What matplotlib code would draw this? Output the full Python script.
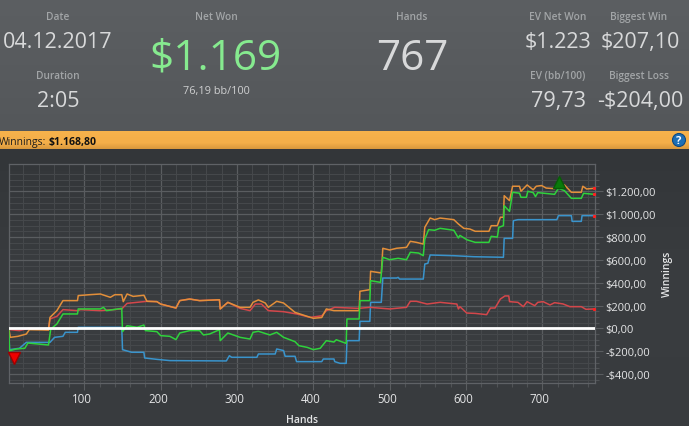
#!/usr/bin/env python
"""
Session summary panel with winnings graph
"""
import numpy as np
import matplotlib
matplotlib.use('Agg')
import matplotlib.pyplot as plt
from matplotlib.colors import LinearSegmentedColormap
from matplotlib.patches import Circle
from matplotlib.ticker import FixedLocator, FixedFormatter
from matplotlib.transforms import ScaledTranslation

plt.rcParams['font.family'] = ['Open Sans', 'DejaVu Sans']

WIDTH, HEIGHT = 689, 427

x_ticks = [100, 200, 300, 400, 500, 600, 700]
x_minor = [h for h in range(20, 770, 20) if h % 100 != 0]
y_ticks = [-400, -200, 0, 200, 400, 600, 800, 1000, 1200]
y_minor = [v for v in range(-450, 1400, 50) if v % 200 != 0]
y_labels = ['-$400,00', '-$200,00', '$0,00', '$200,00', '$400,00', '$600,00',
            '$800,00', '$1.000,00', '$1.200,00']

blue_h = [1, 2, 15, 24, 55, 61, 72, 75, 91, 92, 149, 150, 162, 178, 179, 195, 212, 286, 290, 293,
          326, 328, 350, 352, 361, 363, 376, 378, 411, 413, 427, 428, 435, 443, 444, 460, 461, 474,
          475, 489, 491, 509, 511, 513, 544, 546, 550, 553, 584, 610, 649, 650, 661, 662, 668, 719,
          721, 738, 739, 751, 752, 768]
blue_v = [0, -187, -175, -123, -123, -79, -70, -35, -35, 9, 9, -187, -210, -210, -260, -272, -283, -286, -240, -254,
          -254, -225, -225, -181, -195, -245, -245, -292, -292, -269, -269, -292, -307, -307, -108, -108, 61, 61,
          228, 228, 441, 441, 447, 432, 432, 564, 570, 643, 637, 628, 623, 789, 789, 944, 953, 953,
          988, 988, 938, 938, 988, 988]

green_h = [1, 2, 11, 22, 26, 53, 56, 64, 72, 91, 92, 121, 125, 129, 149, 150, 156, 169, 178, 180,
           195, 200, 212, 220, 225, 238, 251, 256, 264, 277, 278, 288, 304, 317, 321, 328, 343, 352,
           361, 376, 381, 392, 400, 409, 417, 427, 430, 443, 444, 460, 461, 474, 475, 488, 491, 500,
           511, 522, 527, 538, 544, 546, 551, 559, 566, 584, 590, 592, 601, 612, 630, 633, 641, 643,
           649, 650, 657, 661, 670, 672, 679, 681, 688, 691, 694, 716, 721, 729, 738, 751, 754, 768]
green_v = [0, -196, -181, -175, -129, -146, -6, 38, 126, 126, 170, 170, 184, 155, 175, -29, 23, 9, 29, -20,
           -29, -64, -70, -99, -41, -20, -20, -58, -50, -12, -108, -41, -79, -94, -35, -26, -58, -35,
           -79, -117, -152, -167, -187, -175, -108, -120, -100, -132, 82, 82, 243, 243, 418, 403, 623, 602,
           614, 602, 667, 660, 637, 783, 865, 860, 877, 860, 792, 815, 777, 754, 754, 807, 800, 886,
           900, 1075, 1026, 1193, 1185, 1149, 1149, 1202, 1190, 1155, 1190, 1175, 1228, 1207, 1140, 1140, 1184, 1175]

orange_h = [1, 3, 13, 24, 28, 53, 55, 64, 72, 91, 92, 107, 121, 134, 140, 149, 151, 156, 164, 178,
            182, 195, 200, 220, 225, 238, 251, 275, 277, 278, 288, 304, 317, 321, 328, 337, 341, 352,
            361, 376, 392, 400, 411, 417, 427, 435, 460, 461, 474, 475, 489, 491, 500, 509, 522, 527,
            535, 544, 546, 553, 559, 566, 584, 590, 597, 605, 612, 630, 633, 641, 645, 649, 650, 657,
            661, 670, 672, 680, 688, 692, 699, 705, 716, 721, 729, 738, 751, 753, 758, 768]
orange_v = [0, -79, -70, -50, -12, -15, 96, 155, 243, 243, 287, 295, 301, 272, 295, 295, 234, 301, 280, 290,
            237, 234, 213, 178, 243, 257, 243, 250, 250, 170, 228, 184, 184, 228, 249, 222, 184, 237,
            222, 140, 105, 88, 95, 170, 155, 155, 155, 325, 339, 500, 485, 702, 687, 702, 710, 763,
            754, 739, 886, 967, 953, 967, 953, 915, 877, 871, 851, 851, 900, 900, 974, 974, 1163, 1120,
            1246, 1246, 1202, 1257, 1215, 1246, 1252, 1230, 1225, 1266, 1257, 1193, 1193, 1246, 1222, 1228]

red_h = [1, 3, 15, 27, 53, 55, 64, 72, 91, 95, 121, 149, 156, 182, 195, 200, 220, 225, 238, 251,
         275, 277, 278, 288, 304, 317, 324, 332, 341, 361, 379, 396, 411, 417, 428, 459, 474, 500,
         522, 527, 535, 549, 566, 579, 588, 590, 592, 601, 612, 627, 632, 638, 645, 651, 656, 657,
         668, 675, 680, 690, 694, 701, 710, 716, 727, 736, 751, 757, 768]
red_v = [0, -12, -20, 0, -12, 82, 105, 164, 155, 164, 155, 170, 219, 237, 234, 213, 178, 243, 257, 243,
         250, 250, 170, 228, 175, 155, 213, 213, 155, 146, 125, 96, 110, 155, 184, 175, 184, 170,
         184, 237, 237, 213, 228, 219, 213, 170, 190, 134, 131, 120, 178, 178, 257, 284, 284, 234,
         228, 190, 234, 199, 228, 234, 205, 225, 214, 190, 190, 167, 170]

min_hand = [8]
min_value = [-258]
max_hand = [722]
max_value = [1285]

header_labels = [('Date', 58, 20), ('Net Won', 216, 20), ('Hands', 412, 20),
                 ('EV Net Won', 558, 20), ('Biggest Win', 639, 20),
                 ('Duration', 58, 79), ('EV (bb/100)', 558, 79), ('Biggest Loss', 639, 79)]
header_values = [('04.12.2017', 58, 48), ('2:05', 58, 107), ('$1.223', 558, 48),
                 ('$207,10', 640, 48), ('79,73', 558, 107), ('-$204,00', 640, 107)]


def px(x, y):
    return x / WIDTH, 1 - y / HEIGHT


def band(axis, colors, y_bottom, y_top):
    cmap = LinearSegmentedColormap.from_list('band', colors)
    axis.imshow(np.linspace(0, 1, 64).reshape(-1, 1), cmap=cmap,
                extent=(0, WIDTH, y_bottom, y_top), aspect='auto')


fig = plt.figure(figsize=(WIDTH / 100, HEIGHT / 100), dpi=100, facecolor='#383b3e')

# flat bands behind everything, in pixel coordinates
bg = fig.add_axes([0, 0, 1, 1], zorder=0)
band(bg, ['#5c5f62', '#54575a'], 132, 0)
band(bg, ['#f7b34c', '#f5b04a', '#f4af49', '#d9983d'], 150, 132)
band(bg, ['#333639', '#3a3d40', '#383b3e'], HEIGHT, 150)
bg.set_xlim(0, WIDTH)
bg.set_ylim(HEIGHT, 0)
bg.axis('off')
bg.add_patch(Circle((679, 141), 6.5, facecolor='#1d6fb5', edgecolor='#0f4a80', lw=0.8))
bg.text(679, 141.5, '?', color='white', fontsize=8, fontweight='bold', ha='center', va='center')

for text, x, y in header_labels:
    fig.text(*px(x, y), text, color='#a2a5a7', fontsize=7.3, fontweight='semibold', ha='center',
             va='baseline', zorder=5)
for text, x, y in header_values:
    fig.text(*px(x, y), text, color='#d8d9da', fontsize=15.5, ha='center', va='baseline', zorder=5)
fig.text(*px(216, 70), '$1.169', color='#86ea8f', fontsize=30.5, ha='center', va='baseline', zorder=5)
fig.text(*px(412, 70), '767', color='#d8d9da', fontsize=30.5, ha='center', va='baseline', zorder=5)
fig.text(*px(216, 94), '76,19 bb/100', color='#cfd0d1', fontsize=7.8, ha='center', va='baseline', zorder=5)
fig.text(*px(-1, 145), 'Winnings:', color='#1c1c1c', fontsize=7.5, ha='left', va='baseline', zorder=5)
fig.text(*px(49, 145), '$1.168,80', color='#111111', fontsize=7.6, fontweight='bold', ha='left',
         va='baseline', zorder=5)

ax = fig.add_axes([9 / WIDTH, 1 - 383.5 / HEIGHT, 585.5 / WIDTH, 218.5 / HEIGHT], zorder=2)
ax.patch.set_alpha(0)
ax.set_xlim(1.3, 768.3)
ax.set_ylim(-475, 1441)

ax.xaxis.set_major_locator(FixedLocator(x_ticks))
ax.xaxis.set_minor_locator(FixedLocator(x_minor))
ax.yaxis.set_major_locator(FixedLocator(y_ticks))
ax.yaxis.set_minor_locator(FixedLocator(y_minor))
ax.yaxis.set_major_formatter(FixedFormatter(y_labels))
ax.yaxis.tick_right()
ax.set_axisbelow(True)
ax.grid(which='major', color='#5a5d60', lw=0.9)
ax.grid(which='minor', color='#46494c', lw=0.7)
ax.tick_params(which='major', axis='x', length=5, width=0.8, color='#5a5d60', labelcolor='#e4e5e6',
               labelsize=8.3, pad=1.5)
ax.tick_params(which='minor', axis='x', length=3, width=0.8, color='#505356')
ax.tick_params(which='major', axis='y', length=6, width=0.8, color='#5a5d60', labelcolor='#e4e5e6',
               labelsize=8, pad=2)
ax.tick_params(which='minor', axis='y', length=3, width=0.8, color='#505356')
for spine in ax.spines.values():
    spine.set_color('#5f6266')
    spine.set_linewidth(0.9)
for label in ax.get_xticklabels():
    label.set_transform(label.get_transform() + ScaledTranslation(-2 / 72, 0, fig.dpi_scale_trans))

ax.plot(blue_h, blue_v, color='#3a94cc', lw=1.1, zorder=3)
ax.plot(red_h, red_v, color='#d4474b', lw=1.1, zorder=3)
ax.plot(orange_h, orange_v, color='#e38f3a', lw=1.1, zorder=3)
ax.plot(green_h, green_v, color='#2fd23c', lw=1.1, zorder=3)
ax.axhline(0, color='white', lw=2.0, zorder=4)

ax.plot(min_hand, min_value, 'v', color='#f00000', mec='#a00000', ms=9, zorder=5, clip_on=False)
ax.plot(max_hand, max_value, '^', color='#0a7a0a', mec='#085c08', ms=9, zorder=5, clip_on=False)
for series in (blue_v, red_v, orange_v, green_v):
    ax.plot([767.5], series[-1:], 's', color='#ff2020', ms=1.2, zorder=5, clip_on=False)

fig.text(*px(302, 423), 'Hands', color='#e4e5e6', fontsize=7.5, fontweight='semibold', ha='center',
         va='baseline', zorder=5)
fig.text(*px(667, 274), 'Winnings', color='#e4e5e6', fontsize=7.5, fontweight='semibold', rotation=90,
         ha='center', va='center', zorder=5)

fig.savefig('out.png', dpi=100)
